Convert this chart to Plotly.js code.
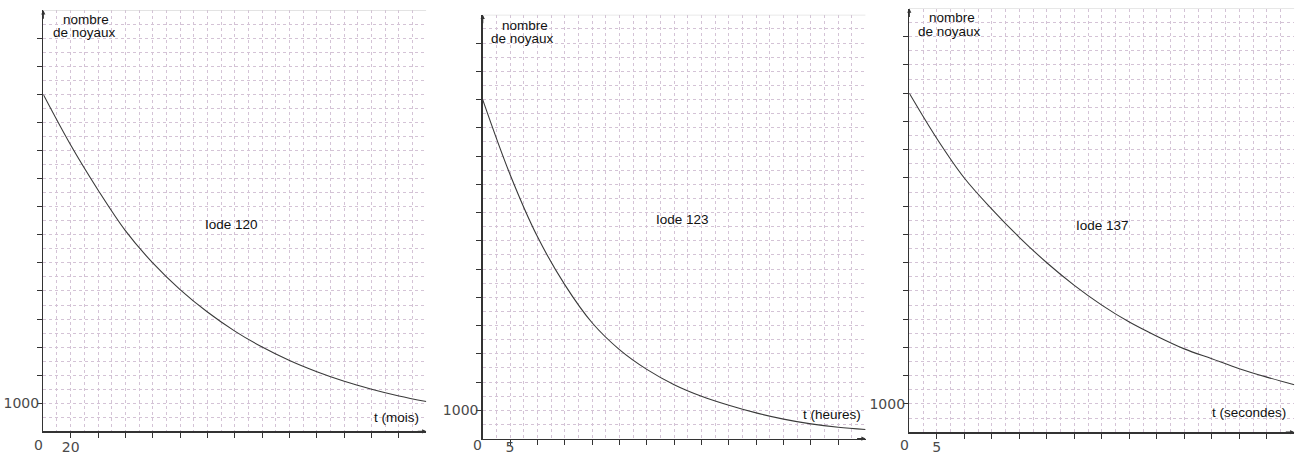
<!DOCTYPE html>
<html>
<head>
<meta charset="utf-8">
<script src="https://cdn.plot.ly/plotly-3.0.1.min.js"></script>
<style>html,body{margin:0;padding:0;background:#fff}#chart{width:1295px;height:455px}</style>
</head>
<body>
<div id="chart"></div>
<script>
// ---- data ----
const t120 = [0,20,40,60,80,100,120,140,160,180,200,220,240,260,280];            // mois
const n120 = [12000,10200,8600,7150,6000,5050,4250,3570,3000,2520,2120,1780,1500,1260,1060];
const t123 = [0,5,10,15,20,25,30,35,40,45,50,55,60,65,70];                      // heures
const n123 = [12000,9350,7150,5450,4100,3150,2450,1910,1500,1180,910,690,520,400,320];
const t137 = [0,5,10,15,20,25,30,35,40,45,50,55,60,65,70];                      // secondes
const n137 = [12000,10400,9000,7900,6900,6000,5200,4500,3900,3400,2950,2600,2250,1950,1680];
const labels = ["Iode 120","Iode 123","Iode 137"];
const xTitles = ["t (mois)","t (heures)","t (secondes)"];
const yTitle = ["nombre","de noyaux"];
const xStep = [20,5,5];
const xMax = [280,70,70];
const yStep = 1000, yMax = 15000;

const W = 1295, H = 455;
const px = x => x / W, py = y => 1 - y / H;

// panel geometry in pixels: [x0, x1, yBottom, yTop]
const geo = [[43.3,426.3,431.3,10.3],[482.7,865.6,438.6,14.8],[909.3,1294.3,432.2,8.5]];
const xStandoff = [-3,-10,-3];

const gridCol = '#d4c3d6', axisCol = '#333', tickFont = {family:'DejaVu Sans', size:14, color:'#4a4a4a'};
const txtFont = {family:'Liberation Sans, Arial', size:13.5, color:'#111'};

const data = [[t120,n120],[t123,n123],[t137,n137]].map((d,i)=>({
  x:d[0], y:d[1], type:'scatter', mode:'lines', line:{color:'#3a3a3a', width:1.1, shape:'spline'},
  xaxis: i? 'x'+(i+1):'x', yaxis: i? 'y'+(i+1):'y', hoverinfo:'skip', showlegend:false
}));

const layout = {width:W, height:H, margin:{l:0,r:0,t:0,b:0}, paper_bgcolor:'#fff', plot_bgcolor:'#fff',
  showlegend:false, annotations:[], shapes:[]};

for (let i=0;i<3;i++){
  const g = geo[i];
  const sx = i? String(i+1):'';
  const xv=[], xt=[];
  for (let v=xStep[i]; v<xMax[i]; v+=xStep[i]){ xv.push(v); xt.push(v===xStep[i]? String(v):''); }
  const yv=[], yt=[];
  for (let v=yStep; v<yMax; v+=yStep){ yv.push(v); yt.push(v===1000?'1000':''); }
  layout['xaxis'+sx] = {domain:[px(g[0]),px(g[1])], range:[0,xMax[i]], anchor:'y'+sx,
    tickmode:'array', tickvals:xv, ticktext:xt, ticks:'outside', ticklen:5, tickcolor:axisCol, tickwidth:1,
    ticklabelstandoff:xStandoff[i],
    tickfont:tickFont, showline:true, linecolor:axisCol, linewidth:1.4, zeroline:false,
    showgrid:true, gridcolor:gridCol, griddash:'dot', gridwidth:1,
    minor:{tickmode:'linear', tick0:0, dtick:xStep[i]/2, showgrid:true, gridcolor:gridCol, griddash:'dot', gridwidth:1, ticks:''}};
  layout['yaxis'+sx] = {domain:[py(g[2]),py(g[3])], range:[0,yMax], anchor:'x'+sx,
    tickmode:'array', tickvals:yv, ticktext:yt, ticks:'outside', ticklen:5, tickcolor:axisCol, tickwidth:1,
    ticklabelstandoff:-5,
    tickfont:tickFont, showline:true, linecolor:axisCol, linewidth:1.4, zeroline:false,
    showgrid:true, gridcolor:gridCol, griddash:'dot', gridwidth:1,
    minor:{tickmode:'linear', tick0:0, dtick:yStep/2, showgrid:true, gridcolor:gridCol, griddash:'dot', gridwidth:1, ticks:''}};
  const xr = i? 'x'+(i+1):'x', yr = i? 'y'+(i+1):'y';
  // light top border of the grid
  layout.shapes.push({type:'line', xref:xr, yref:yr, x0:0, x1:xMax[i], y0:yMax, y1:yMax,
    line:{color:'#d0d0d0', width:1}});
  // arrows
  layout.annotations.push({xref:xr, yref:yr, x:0, y:yMax, ax:0, ay:10, text:'', showarrow:true,
    arrowhead:2, arrowsize:0.7, arrowwidth:1.2, arrowcolor:axisCol});
  layout.annotations.push({xref:xr, yref:yr, x:xMax[i], y:0, ax:-10, ay:0, text:'', showarrow:true,
    arrowhead:2, arrowsize:0.7, arrowwidth:1.2, arrowcolor:axisCol});
  // origin label
  layout.annotations.push({xref:xr, yref:'paper', x:0, y:py(Math.min(g[2]+13.5,445)), xshift:-5, text:'0', showarrow:false,
    font:tickFont, xanchor:'center', yanchor:'middle'});
}

// text labels (pixel positions)
const txt = [
  [yTitle[0],86,20],[yTitle[1],84,32.5],[labels[0],231.5,224],[xTitles[0],396.5,417],
  [yTitle[0],525,25.5],[yTitle[1],522.5,38],[labels[1],682,219],[xTitles[1],832,414],
  [yTitle[0],951.5,18],[yTitle[1],949,31.5],[labels[2],1102.5,225],[xTitles[2],1248.5,412]
];
txt.forEach(a=>layout.annotations.push({xref:'paper', yref:'paper', x:px(a[1]), y:py(a[2]), text:a[0],
  showarrow:false, font:txtFont, xanchor:'center', yanchor:'middle', borderpad:0}));

Plotly.newPlot('chart', data, layout, {staticPlot:true});
</script>
</body>
</html>
